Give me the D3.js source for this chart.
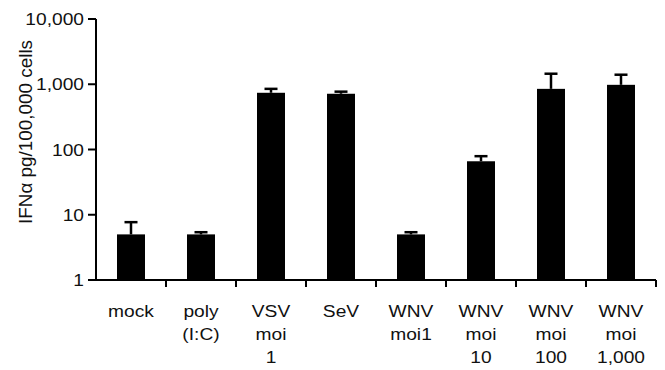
<!DOCTYPE html>
<html>
<head>
<meta charset="utf-8">
<script src="https://cdn.jsdelivr.net/npm/d3@7"></script>
<style>
  body { margin: 0; background: #fff; }
  svg { display: block; }
  text { font-family: Arial, "Liberation Sans", sans-serif; fill: #111; }
</style>
</head>
<body>
<svg id="chart" width="665" height="370"></svg>
<script>
// values (pg per 100,000 cells)
var categories = [
    ["mock"],
    ["poly", "(I:C)"],
    ["VSV", "moi", "1"],
    ["SeV"],
    ["WNV", "moi1"],
    ["WNV", "moi", "10"],
    ["WNV", "moi", "100"],
    ["WNV", "moi", "1,000"]
];
var means = [5, 5, 740, 715, 5, 66, 850, 980];
var errTops = [7.7, 5.4, 850, 770, 5.4, 79, 1450, 1400];

var yTicks = [1, 10, 100, 1000, 10000];
var yTickLabels = ["1", "10", "100", "1,000", "10,000"];

const svg = d3.select("#chart");
const plotLeft = 96, plotRight = 656, plotTop = 19, plotBottom = 280;

const x = d3.scaleBand()
    .domain(d3.range(categories.length))
    .range([plotLeft, plotRight])
    .paddingInner(0.6)
    .paddingOuter(0.3);

const y = d3.scaleLog()
    .domain([1, 10000])
    .range([plotBottom, plotTop]);

const stretch = 1.13; // glyphs in the original look a bit wide

// bars
svg.append("g").selectAll("rect")
    .data(means)
    .enter().append("rect")
    .attr("x", (d, i) => x(i))
    .attr("width", x.bandwidth())
    .attr("y", d => y(d))
    .attr("height", d => plotBottom - y(d))
    .attr("fill", "#000");

// error bars, upper half only
const eg = svg.append("g").attr("stroke", "#000").attr("stroke-width", 2.5);
errTops.forEach(function (e, i) {
    let cx = x(i) + x.bandwidth() / 2;
    eg.append("line")
        .attr("x1", cx).attr("x2", cx)
        .attr("y1", y(means[i])).attr("y2", y(e));
    eg.append("line")
        .attr("x1", cx - 6.5).attr("x2", cx + 6.5)
        .attr("y1", y(e)).attr("y2", y(e));
});

// y axis
const yAxis = svg.append("g").attr("stroke", "#000").attr("stroke-width", 2);
yAxis.append("line")
    .attr("x1", plotLeft).attr("x2", plotLeft)
    .attr("y1", plotTop).attr("y2", plotBottom);
yTicks.forEach(function (t, i) {
    yAxis.append("line")
        .attr("x1", plotLeft - 8).attr("x2", plotLeft)
        .attr("y1", y(t)).attr("y2", y(t));
    svg.append("text")
        .attr("transform", "translate(84," + (y(t) + 6) + ") scale(" + stretch + ",1)")
        .attr("text-anchor", "end")
        .attr("font-size", 17)
        .text(yTickLabels[i]);
});

// x axis
const xAxis = svg.append("g").attr("stroke", "#000").attr("stroke-width", 2);
xAxis.append("line")
    .attr("x1", plotLeft).attr("x2", plotRight)
    .attr("y1", plotBottom).attr("y2", plotBottom);
const step = x.step();
categories.forEach(function (c, i) {
    let bx = x(i) + x.bandwidth() / 2 + step / 2;
    xAxis.append("line")
        .attr("x1", bx).attr("x2", bx)
        .attr("y1", plotBottom).attr("y2", plotBottom + 7);
    let cx = x(i) + x.bandwidth() / 2;
    c.forEach(function (line, j) {
        svg.append("text")
            .attr("transform", "translate(" + cx + "," + (317 + j * 23) + ") scale(" + stretch + ",1)")
            .attr("text-anchor", "middle")
            .attr("font-size", 17)
            .text(line);
    });
});

// y label
svg.append("text")
    .attr("transform", "translate(32,132) rotate(-90) scale(1.05,1)")
    .attr("text-anchor", "middle")
    .attr("font-size", 18)
    .text("IFNα pg/100,000 cells");
</script>
</body>
</html>
